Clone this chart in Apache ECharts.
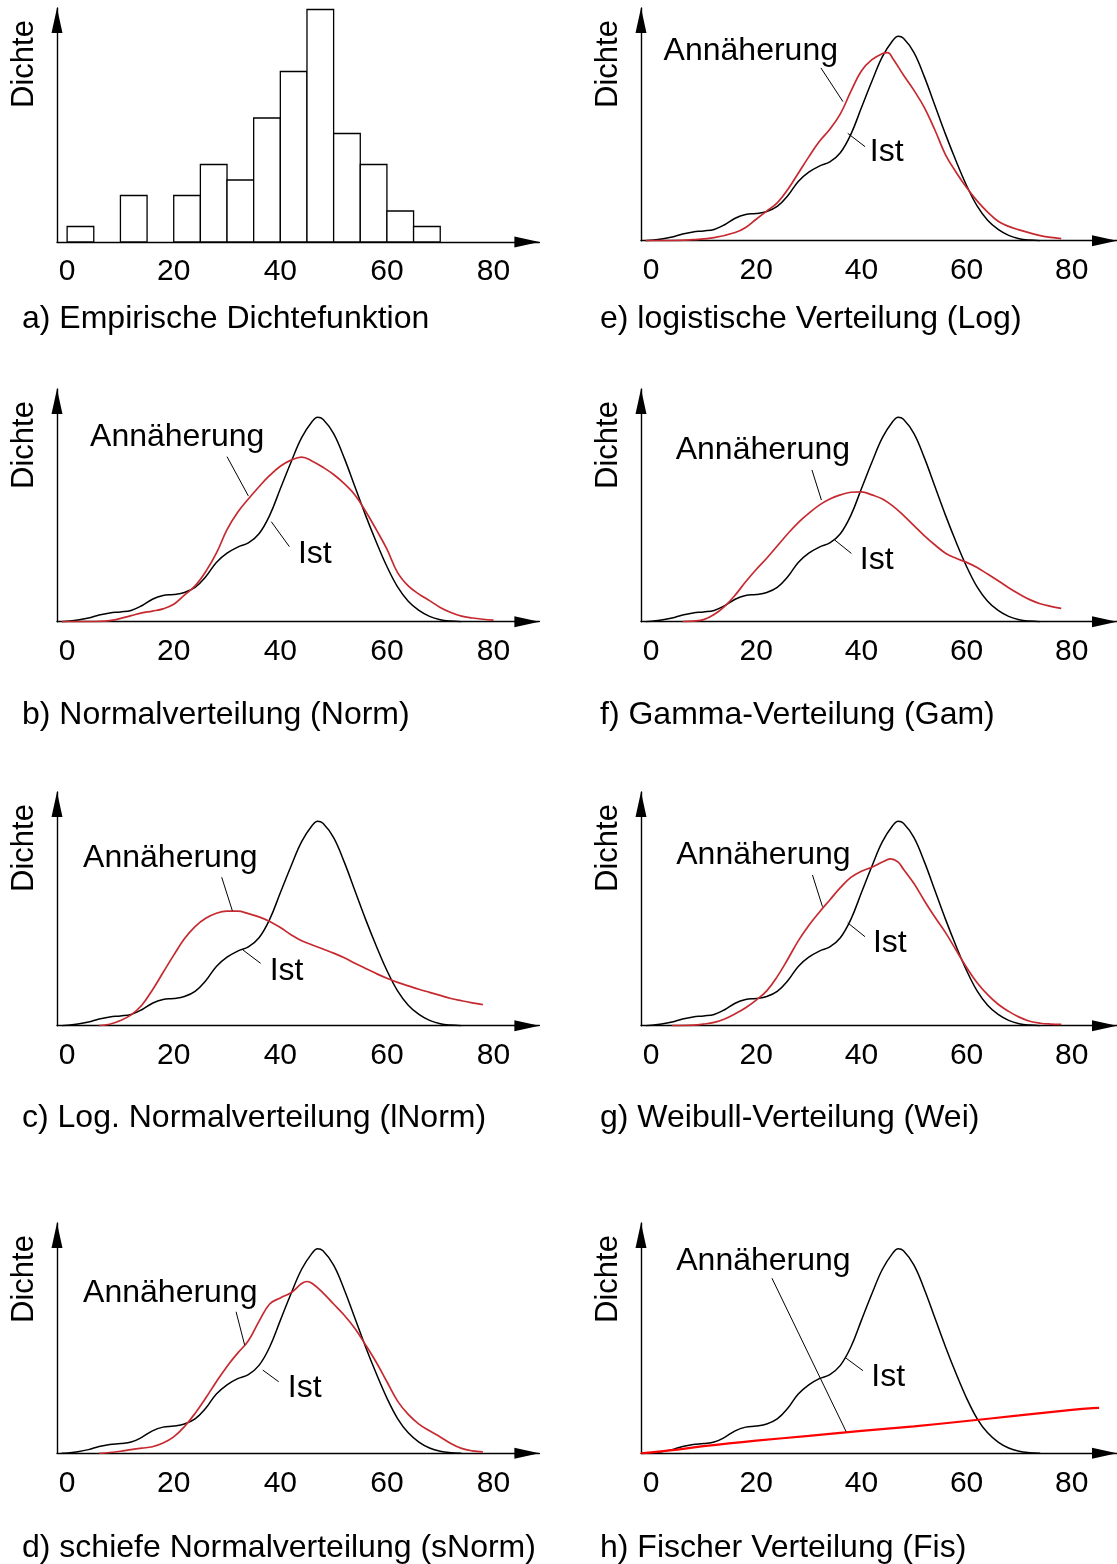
<!DOCTYPE html>
<html>
<head>
<meta charset="utf-8">
<script src="https://cdn.jsdelivr.net/npm/echarts@6/dist/echarts.min.js"></script>
<style>
html,body{margin:0;padding:0;background:#fff;}
#main{width:1117px;height:1564px;}
</style>
</head>
<body>
<div id="main"></div>
<script>
// ---------------- DATA ----------------
const xTicks = [0, 20, 40, 60, 80];

// a) histogram: bin starts (width 5) and counts
const binStarts = [0, 5, 10, 15, 20, 25, 30, 35, 40, 45, 50, 55, 60, 65];
const binCounts = [1, 0, 3, 0, 3, 5, 4, 8, 11, 15, 7, 5, 2, 1];
const binWidth = 5;

// Ist (empirical density, relative units, peak = 100)
const istX = [-1, 0, 2, 4, 6, 8, 10, 12, 14, 16, 18, 20, 22, 24, 26, 28, 30, 32, 34, 36, 38, 40, 42, 44, 46, 47, 48, 50, 52, 54, 56, 58, 60, 62, 64, 66, 68, 70, 72, 74];
const istY = [0, 0.2, 0.8, 1.8, 3.3, 4.3, 4.8, 5.5, 7.8, 11, 12.8, 13.3, 14.3, 16.8, 22, 29, 33.5, 36.5, 38.5, 43, 52, 65, 78, 90, 98, 100, 99, 92, 80, 66, 52, 39, 27, 17, 10, 5.5, 2.6, 1, 0.3, 0];

// b) Normalverteilung
const normX = [-1, 4, 8, 12, 14, 16, 18, 20, 22, 24, 26, 28, 30, 32, 34, 36, 38, 40, 42, 44, 46, 48, 50, 52, 54, 56, 58, 60, 62, 64, 66, 68, 70, 72, 74, 76, 78, 80];
const normY = [0, 0, 0.5, 3, 4.3, 5.2, 6.3, 8.5, 13, 17.5, 24.5, 33.5, 45, 53.5, 60, 66, 71.5, 76, 79, 80.5, 78.5, 75.5, 72, 67.5, 62, 54, 45, 35.5, 24, 17.5, 13.5, 10.3, 7, 4.5, 2.7, 1.8, 1.2, 0.8];

// c) Log. Normalverteilung
const lnormX = [6, 8, 10, 12, 14, 16, 18, 20, 22, 24, 26, 28, 30, 32, 34, 36, 38, 40, 42, 44, 46, 48, 50, 52, 54, 56, 58, 60, 62, 64, 66, 68, 70, 72, 74, 76, 78];
const lnormY = [0, 0.7, 2.5, 5.3, 10, 17.5, 26, 34.5, 42.5, 48.5, 52.5, 55, 56, 56, 54.8, 53.2, 51, 48, 44.5, 41.5, 39.5, 37.5, 35.5, 33.2, 30.5, 28, 25.5, 23.2, 21.2, 19.5, 17.8, 16.3, 14.8, 13.3, 12.2, 11.2, 10.3];

// d) schiefe Normalverteilung
const snormX = [6, 8, 10, 12, 14, 16, 18, 20, 22, 24, 26, 28, 30, 32, 34, 36, 38, 40, 42, 44, 45, 46, 48, 50, 52, 54, 56, 58, 60, 62, 64, 66, 68, 70, 72, 74, 76, 78];
const snormY = [0, 0.4, 1, 1.8, 2.5, 3.2, 5, 8, 13, 19.5, 27, 35, 42.5, 49, 55, 64.5, 73, 76, 78.5, 83, 84, 83, 78.5, 73, 67.5, 61, 53, 44.5, 35, 25.5, 19, 14.3, 11, 8, 4.8, 2.4, 1.2, 0.7];

// e) logistische Verteilung
const logX = [-1, 4, 8, 12, 16, 18, 20, 22, 24, 26, 28, 30, 32, 34, 36, 38, 40, 42, 44, 45, 46, 48, 50, 52, 54, 56, 58, 60, 62, 64, 66, 68, 70, 72, 74, 76, 78];
const logY = [0, 0, 0.5, 1.5, 4, 6.5, 10.5, 14.5, 18.5, 25, 33, 41, 48.5, 54.5, 62, 73, 83, 88.5, 91.5, 92, 89, 81, 73.5, 65, 54, 42, 33.5, 26, 19.5, 14, 9.5, 7, 5.3, 3.8, 2.5, 1.6, 1];

// f) Gamma-Verteilung
const gamX = [6, 8, 10, 12, 14, 16, 18, 20, 22, 24, 26, 28, 30, 32, 34, 36, 38, 40, 42, 44, 46, 48, 50, 52, 54, 56, 58, 60, 62, 64, 66, 68, 70, 72, 74, 76, 78];
const gamY = [0, 0.3, 1, 3.5, 7.5, 13, 19.5, 25.5, 31, 37, 43, 48.5, 53, 57, 60, 62, 63.3, 63.5, 62, 60, 56.5, 52, 47, 42, 37.5, 33.5, 31, 29, 26.5, 23.3, 20, 16.6, 13.5, 10.8, 8.8, 7.5, 6.5];

// g) Weibull-Verteilung
const weiX = [4, 8, 10, 12, 14, 16, 18, 20, 22, 24, 26, 28, 30, 32, 34, 36, 38, 40, 42, 44, 45.5, 47, 48, 50, 52, 54, 56, 58, 60, 62, 64, 66, 68, 70, 72, 74, 76, 78];
const weiY = [0, 0.3, 0.8, 1.6, 3.3, 5.8, 8.8, 12.5, 17, 24, 32.5, 41.5, 49, 55.5, 61.5, 67.5, 72.5, 75.5, 77.5, 80, 81.6, 80, 76.5, 69.5, 61, 53, 45.5, 37, 28.5, 21, 15.2, 10.5, 7, 4.2, 2.2, 1.2, 0.8, 0.6];

// h) Fischer Verteilung
const fisX = [-1.9, 5, 10, 20, 30, 40, 50, 60, 70, 80, 84, 85.2];
const fisY = [0, 1.8, 3.5, 6.2, 8.5, 11, 13.2, 15.8, 18.5, 21.2, 22.1, 22.2];

// captions
const captions = [
  'a) Empirische Dichtefunktion',
  'e) logistische Verteilung (Log)',
  'b) Normalverteilung (Norm)',
  'f) Gamma-Verteilung (Gam)',
  'c) Log. Normalverteilung (lNorm)',
  'g) Weibull-Verteilung (Wei)',
  'd) schiefe Normalverteilung (sNorm)',
  'h) Fischer Verteilung (Fis)'
];
const yLabel = 'Dichte';
const annText = 'Annäherung';
const istText = 'Ist';

// fits per panel (panel index 1..7), null for histogram
const fits = [null, [logX, logY], [normX, normY], [gamX, gamY], [lnormX, lnormY], [weiX, weiY], [snormX, snormY], [fisX, fisY]];

// annotation anchors per panel: [label x, label y] and leader [x1,y1,x2,y2] (data units)
const annLabel = [null, [2.4, 92.9], [4.3, 90.3], [4.7, 84], [3, 82], [4.8, 83.5], [3, 78.4], [4.8, 94]];
const annLeader = [null, [32.3, 84.5, 36.5, 68], [30, 80.7, 34, 61.5], [30.6, 74.2, 32.4, 59.5], [29, 72.6, 31, 56.2], [30.7, 73.7, 32.6, 58.2], [31.7, 69.2, 33.3, 53], [23, 85.6, 37.1, 10.6]];
const istLabel = [null, [41.6, 43.4], [43.3, 33.1], [39.7, 30.2], [38, 26.7], [42.2, 40.3], [41.4, 31.9], [41.9, 37.3]];
const istLeader = [null, [37.4, 52.5, 40.7, 46], [38.3, 48.9, 41.7, 36.7], [34.9, 40, 38.1, 33.4], [33, 37, 36.3, 30.5], [37.4, 50.3, 40.7, 43.5], [36.7, 40.7, 39.7, 35], [37.1, 46.5, 40.3, 40.4]];

// ---------------- LAYOUT ----------------
const FONT = "'Liberation Sans', Arial, Helvetica, sans-serif";
const FS = 32;
const panels = [
  {left: 57,  top: 8,    bottom: 242},
  {left: 641, top: 8,    bottom: 240.7},
  {left: 57,  top: 389,  bottom: 621.7},
  {left: 641, top: 389,  bottom: 621.7},
  {left: 57,  top: 792,  bottom: 1025.7},
  {left: 641, top: 792,  bottom: 1025.7},
  {left: 57,  top: 1223, bottom: 1453.3},
  {left: 641, top: 1223, bottom: 1453.3}
];
const captionCenters = [319, 319, 715, 715, 1118, 1118, 1548, 1548];
const xMin = -1.9, xMax = 88.6;
const pxPerX = 5.33;
const pxPerY = 2.045;     // relative density units
const pxPerCount = 15.5;  // histogram counts

const grids = [], xAxes = [], yAxes = [], series = [], titles = [], graphics = [];
const redColor = '#c62a30';

panels.forEach((p, i) => {
  const h = p.bottom - p.top;
  grids.push({left: p.left, top: p.top, width: (xMax - xMin) * pxPerX, height: h, containLabel: false});
  xAxes.push({
    gridIndex: i, type: 'value', min: xMin, max: xMax,
    axisLine: {show: true, onZero: true, symbol: ['none', 'triangle'], symbolSize: [11, 25], symbolOffset: [0, -12.5],
      lineStyle: {color: '#000', width: 1.4}},
    axisTick: {show: false},
    splitLine: {show: false},
    axisLabel: {show: true, customValues: xTicks, color: '#000', fontSize: 30, fontFamily: FONT, margin: 15}
  });
  yAxes.push({
    gridIndex: i, type: 'value', min: 0, max: i === 0 ? h / pxPerCount : h / pxPerY,
    axisLine: {show: true, onZero: false, symbol: ['none', 'triangle'], symbolSize: [11, 25], symbolOffset: [0, -12.5],
      lineStyle: {color: '#000', width: 1.4}},
    axisTick: {show: false}, splitLine: {show: false}, axisLabel: {show: false}
  });
  titles.push({
    text: captions[i], left: p.left === 57 ? 22 : 600, top: captionCenters[i] - 18, padding: 0,
    textStyle: {fontSize: FS, fontWeight: 'normal', color: '#000', fontFamily: FONT, lineHeight: 36}
  });
  graphics.push({
    type: 'text', x: p.left - 33, y: p.top + 56, rotation: Math.PI / 2,
    style: {text: yLabel, fontSize: 31, fontFamily: FONT, fill: '#000', align: 'center', verticalAlign: 'middle'}
  });

  if (i === 0) {
    const histData = [];
    binStarts.forEach((s, k) => { if (binCounts[k] > 0) histData.push([s, s + binWidth, binCounts[k]]); });
    series.push({
      type: 'custom', xAxisIndex: i, yAxisIndex: i, data: histData, silent: true,
      renderItem: (params, api) => {
        const p0 = api.coord([api.value(0), 0]);
        const p1 = api.coord([api.value(1), api.value(2)]);
        return {type: 'rect', shape: {x: p0[0], y: p1[1], width: p1[0] - p0[0], height: p0[1] - p1[1]},
          style: {fill: '#fff', stroke: '#000', lineWidth: 1.3}};
      }
    });
    return;
  }
  // Ist curve
  series.push({
    type: 'line', xAxisIndex: i, yAxisIndex: i, data: istX.map((x, k) => [x, istY[k]]),
    smooth: 0.4, showSymbol: false, silent: true, lineStyle: {color: '#000', width: 1.5}, z: 2
  });
  // fitted curve
  const [fx, fy] = fits[i];
  series.push({
    type: 'line', xAxisIndex: i, yAxisIndex: i, data: fx.map((x, k) => [x, fy[k]]),
    smooth: 0.4, showSymbol: false, silent: true,
    lineStyle: {color: i === 7 ? '#ff0000' : redColor, width: i === 7 ? 2.2 : 1.7}, z: 3
  });
  // leader lines
  [annLeader[i], istLeader[i]].forEach(l => {
    series.push({
      type: 'line', xAxisIndex: i, yAxisIndex: i, data: [[l[0], l[1]], [l[2], l[3]]],
      showSymbol: false, silent: true, lineStyle: {color: '#000', width: 1}, z: 4
    });
  });
  // labels
  [[annLabel[i], annText], [istLabel[i], istText]].forEach(([pt, txt]) => {
    series.push({
      type: 'scatter', xAxisIndex: i, yAxisIndex: i, symbolSize: 0, silent: true,
      itemStyle: {opacity: 1},
      data: [{value: [pt[0], pt[1]], name: txt}],
      label: {show: true, position: 'right', distance: 0, formatter: '{b}', color: '#000', opacity: 1,
        fontSize: FS, fontFamily: FONT, textBorderWidth: 0}, z: 5
    });
  });
});

const chart = echarts.init(document.getElementById('main'), null, {renderer: 'canvas'});
chart.setOption({
  backgroundColor: '#fff',
  animation: false,
  title: titles,
  grid: grids,
  xAxis: xAxes,
  yAxis: yAxes,
  series: series,
  graphic: graphics
});
</script>
</body>
</html>
